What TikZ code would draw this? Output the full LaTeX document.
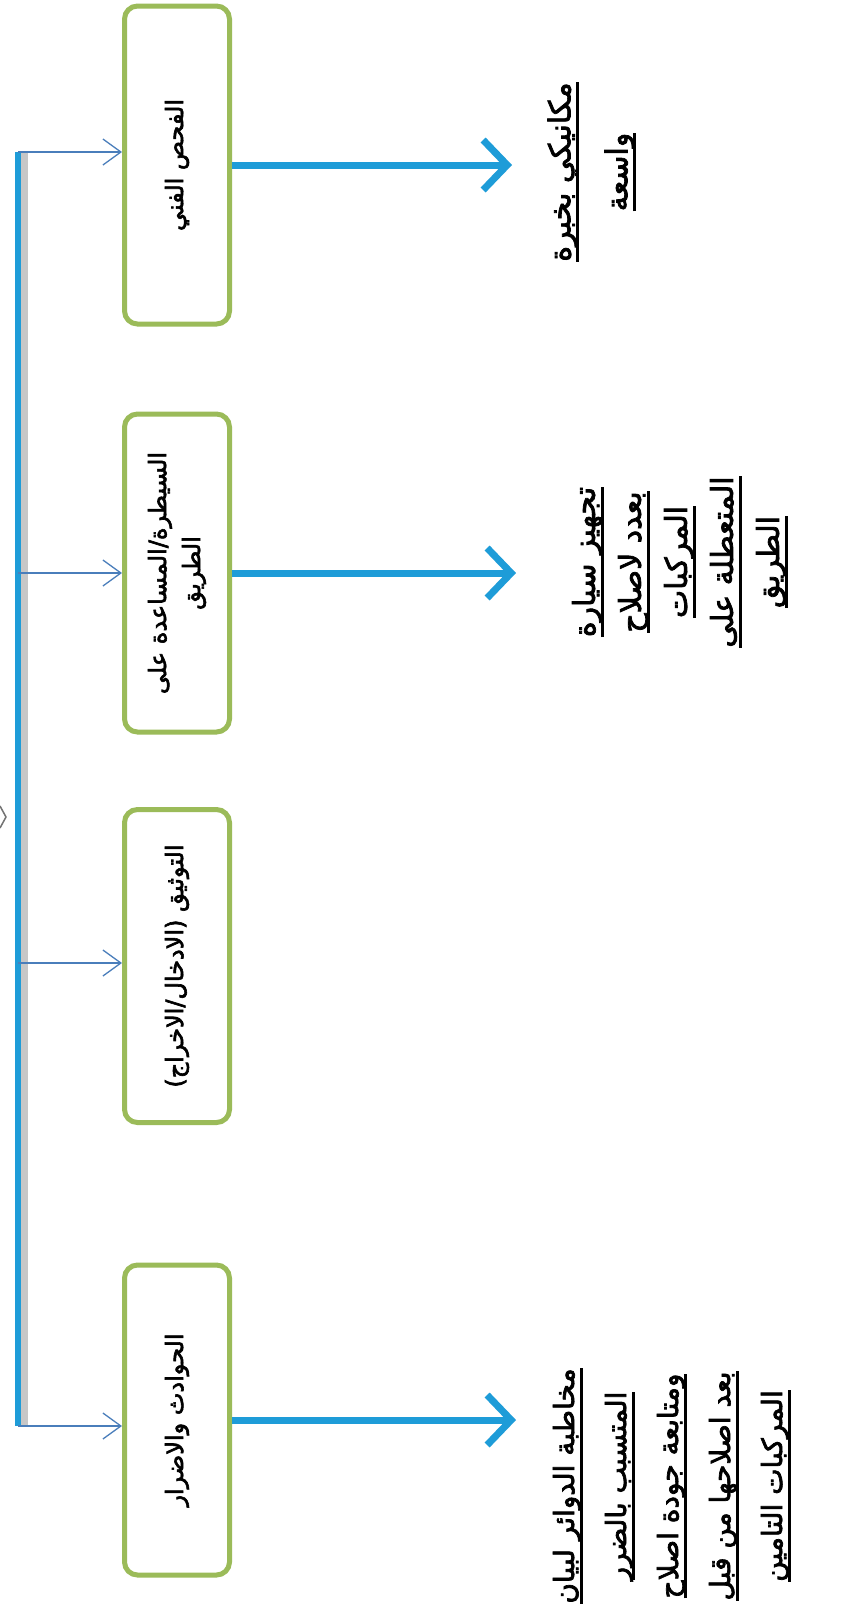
\documentclass[tikz,border=0pt]{standalone}
\usepackage{fontspec}
\usetikzlibrary{arrows.meta}
\TeXXeTstate=1
\newfontfamily\arabicfont[Script=Arabic,FakeBold=2.5]{DejaVu Sans}
\definecolor{boxgreen}{HTML}{9BBB59}
\definecolor{thickblue}{HTML}{1E9CD8}
\definecolor{thinblue}{HTML}{4A7EBB}
\newcommand\ulr[1]{\setbox0=\hbox{\beginR #1\endR}\rlap{\vrule height -6pt depth 9pt width \wd0}\box0}
\newcommand\arl[1]{\beginR #1\endR}
\begin{document}
\begin{tikzpicture}[x=1pt,y=-1pt,
  stepbox/.style={draw=boxgreen, line width=5pt, rounded corners=13pt, fill=white,
    rotate=90, minimum height=105pt, inner sep=0pt, align=center,
    font=\arabicfont\fontsize{24}{34}\selectfont},
  sidetext/.style={rotate=90, align=center, inner sep=0pt},
  thinarrow/.style={draw=thinblue, line width=1.3pt, -{Straight Barb[length=18pt,width=26pt]}},
  thickarrow/.style={draw=thickblue, line width=7pt, -{Straight Barb[length=24pt,width=50pt]}},
  trunk/.style={draw=thickblue, line width=6pt},
  trunkshadow/.style={draw=black!22, line width=7pt}]
\fill[white] (0,0) rectangle (842,1618);
\useasboundingbox (0,0) rectangle (842,1618);

% boxes
\node[stepbox, minimum width=318pt] (b1) at (177,165) {\arl{الفحص الفني}};
\node[stepbox, minimum width=318pt] (b2) at (177,573) {\arl{السيطرة/المساعدة على}\\\arl{الطريق}};
\node[stepbox, minimum width=313pt] (b3) at (177,966) {\arl{التوثيق (الادخال/الاخراج)}};
\node[stepbox, minimum width=310pt] (b4) at (177,1420) {\arl{الحوادث والاضرار}};

% trunk
\coordinate (j1) at (18,152);
\coordinate (j2) at (18,573);
\coordinate (j3) at (18,963);
\coordinate (j4) at (18,1426);
\draw[trunkshadow] ([xshift=6pt]j1) -- ([xshift=6pt]j4);
\draw[trunk] (j1) -- (j4);
\draw[thinarrow] (j1) -- (j1 -| b1.north);
\draw[thinarrow] (j2) -- (j2 -| b2.north);
\draw[thinarrow] (j3) -- (j3 -| b3.north);
\draw[thinarrow] (j4) -- (j4 -| b4.north);

% fragment at left edge
\coordinate (f1) at (0,806);
\coordinate (f2) at (6,817);
\coordinate (f3) at (0,828);
\draw[black!55, line width=1.5pt] (f1) -- (f2) -- (f3);

% side texts
\node[sidetext, font=\arabicfont\fontsize{30}{57}\selectfont] (t1) at (592,172) {\ulr{مكانيكي بخبرة}\\\ulr{واسعة}};
\node[sidetext, font=\arabicfont\fontsize{30}{46}\selectfont] (t2) at (680,562) {\ulr{تجهيز سيارة}\\\ulr{بعدد لاصلاح}\\\ulr{المركبات}\\\ulr{المتعطلة على}\\\ulr{الطريق}};
\node[sidetext, font=\arabicfont\fontsize{28}{52}\selectfont] (t4) at (672,1486) {\ulr{مخاطبة الدوائر لبيان}\\\ulr{المتسبب بالضرر}\\\ulr{ومتابعة جودة اصلاح}\\\ulr{بعد اصلاحها من قبل}\\\ulr{المركبات التامين}};

% thick arrows
\coordinate (e1) at (512,167);
\coordinate (e2) at (516,573);
\coordinate (e4) at (516,1420);
\draw[thickarrow] (b1.south) -- (b1.south -| e1);
\draw[thickarrow] (b2.south) -- (b2.south -| e2);
\draw[thickarrow] (b4.south) -- (b4.south -| e4);
\end{tikzpicture}
\end{document}
